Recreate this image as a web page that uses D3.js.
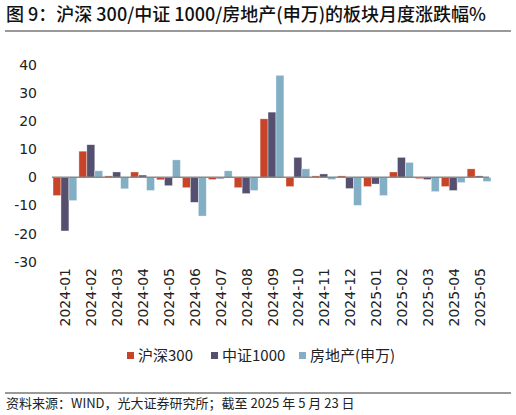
<!DOCTYPE html>
<html>
<head>
<meta charset="utf-8">
<script src="https://cdn.jsdelivr.net/npm/d3@7"></script>
<style>
  body { margin: 0; background: #fff; }
  svg { display: block; }
</style>
</head>
<body>
<div id="chart"></div>
<script>
// months on the x axis
var months = ["2024-01","2024-02","2024-03","2024-04","2024-05","2024-06","2024-07","2024-08","2024-09",
              "2024-10","2024-11","2024-12","2025-01","2025-02","2025-03","2025-04","2025-05"]
var seriesNames = ["沪深300", "中证1000", "房地产(申万)"]
// monthly change, %
var hs300   = [-6.5, 9.3, 0.5, 1.9, -0.9, -3.7, -0.8, -3.7, 20.8, -3.3, 0.5, 0.5, -3.3, 1.9, -0.5, -3.3, 3.0]
var zz1000  = [-19.1, 11.6, 1.9, 0.8, -3.0, -8.9, -0.5, -5.8, 23.2, 7.1, 1.2, -4.0, -2.4, 7.1, -0.8, -4.7, 0.5]
var realty  = [-8.3, 2.3, -4.1, -4.7, 6.2, -13.8, 2.3, -4.7, 36.3, 3.0, -0.8, -10.0, -6.5, 5.3, -5.1, -1.9, -1.5]
var yTicks = [-30, -20, -10, 0, 10, 20, 30, 40]
var colors = ["#c84428", "#55506f", "#83afc4"]

var W = 516, H = 415
var svg = d3.select("#chart").append("svg").attr("width", W).attr("height", H)

var cjk = "'Noto Sans CJK SC', 'Noto Sans', sans-serif"
var num = "'DejaVu Sans', sans-serif"

// title + rule
svg.append("text").attr("x", 6).attr("y", 21)
  .attr("font-family", cjk).attr("font-size", 18).attr("font-weight", 500).attr("fill", "#111")
  .text("图 9：沪深 300/中证 1000/房地产(申万)的板块月度涨跌幅%")
svg.append("line").attr("x1", 5).attr("x2", 511).attr("y1", 31).attr("y2", 31)
  .attr("stroke", "#777").attr("stroke-width", 1.5)

var series = [hs300, zz1000, realty]

var x = d3.scaleBand().domain(months).range([52, 492]).paddingInner(0.08).paddingOuter(0.04)
var xs = d3.scaleBand().domain(d3.range(series.length)).range([0, x.bandwidth()])
var y = d3.scaleLinear().domain([-30, 40]).range([261.6, 64.9])

// y tick labels (no axis line)
svg.append("g").selectAll("text").data(yTicks).enter().append("text")
  .attr("x", 37).attr("y", function (d) { return y(d) }).attr("dy", "0.36em")
  .attr("text-anchor", "end").attr("font-family", num).attr("font-size", 14).attr("fill", "#222")
  .text(function (d) { return d })

// bars
series.forEach(function (vals, si) {
  svg.append("g").selectAll("rect").data(vals).enter().append("rect")
    .attr("x", function (d, i) { return x(months[i]) + xs(si) })
    .attr("width", xs.bandwidth())
    .attr("y", function (d) { return y(Math.max(0, d)) })
    .attr("height", function (d) { return Math.abs(y(d) - y(0)) })
    .attr("fill", colors[si])
    .attr("stroke", "#fff").attr("stroke-opacity", 0.6).attr("stroke-width", 0.6)
})

// zero line
svg.append("line").attr("x1", 52).attr("x2", x(months[months.length - 1]) + x.bandwidth() - 2)
  .attr("y1", y(0)).attr("y2", y(0)).attr("stroke", "#8a8a8a").attr("stroke-width", 1.5)

// x labels, rotated
svg.append("g").selectAll("text").data(months).enter().append("text")
  .attr("transform", function (d) { return "translate(" + (x(d) + x.bandwidth() / 2 + 0.5) + ",268) rotate(-90)" })
  .attr("dy", "0.36em").attr("text-anchor", "end")
  .attr("font-family", num).attr("font-size", 14).attr("fill", "#222")
  .text(function (d) { return d })

// legend
var legX = [127, 211, 299]
var leg = svg.append("g")
seriesNames.forEach(function (name, i) {
  leg.append("rect").attr("x", legX[i]).attr("y", 352).attr("width", 7).attr("height", 7).attr("fill", colors[i])
  leg.append("text").attr("x", legX[i] + 11).attr("y", 361)
    .attr("font-family", cjk).attr("font-size", 15).attr("fill", "#222").text(name)
})

// footer
svg.append("line").attr("x1", 5).attr("x2", 511).attr("y1", 393).attr("y2", 393)
  .attr("stroke", "#777").attr("stroke-width", 1.5)
svg.append("text").attr("x", 6).attr("y", 408)
  .attr("font-family", cjk).attr("font-size", 13).attr("fill", "#222")
  .text("资料来源：WIND，光大证券研究所；截至 2025 年 5 月 23 日")
</script>
</body>
</html>
